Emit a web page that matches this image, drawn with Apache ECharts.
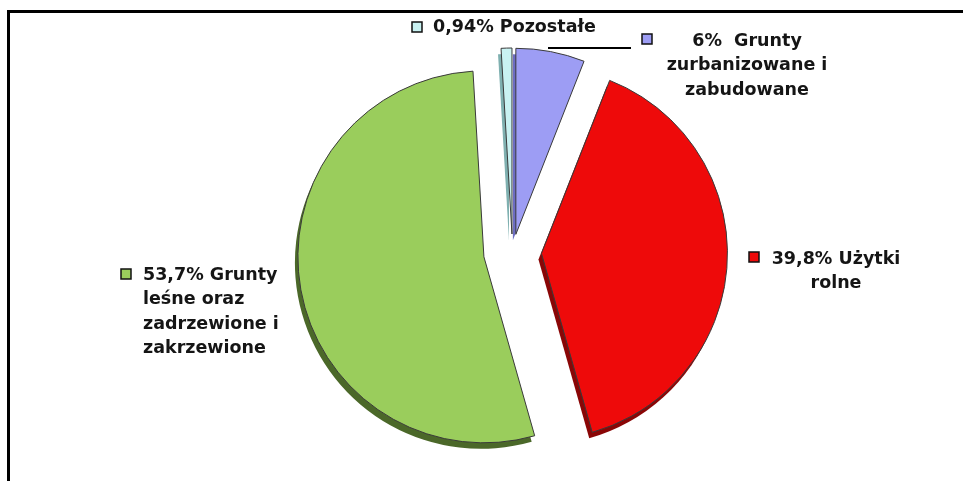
<!DOCTYPE html>
<html>
<head>
    <meta charset="utf-8">
    <title>Struktura gruntów</title>
    <script src="https://cdn.jsdelivr.net/npm/echarts@6/dist/echarts.min.js"></script>
    <style>
        html, body { margin: 0; padding: 0; background: #fff; }
        #main { width: 963px; height: 481px; }
    </style>
</head>
<body>
    <div id="main"></div>
    <script type="text/javascript">
        // dane - kolejnosc zgodnie z ruchem wskazowek zegara od godz. 12
        var names = ['Grunty zurbanizowane i zabudowane', 'Użytki rolne', 'Grunty leśne oraz zadrzewione i zakrzewione', 'Pozostałe'];
        var values = [6, 39.8, 53.7, 0.94];
        var labelLines = [
            ['6%  Grunty', 'zurbanizowane i', 'zabudowane'],
            ['39,8% Użytki', 'rolne'],
            ['53,7% Grunty', 'leśne oraz', 'zadrzewione i', 'zakrzewione'],
            ['0,94% Pozostałe']
        ];

        var colors = ['#9d9df4', '#ee0a0a', '#9acd5c', '#c9f2f2'];
        var sideColors = ['#6d6dc2', '#8a0606', '#4b6829', '#7fb0b0'];

        // polozenie etykiet (x, srodek pierwszej linii, wyrownanie) i kwadracikow
        var labelPos = [
            { x: 747, y: 41, align: 'center', mx: 642, my: 34 },
            { x: 836, y: 259, align: 'center', mx: 749, my: 252 },
            { x: 143, y: 275, align: 'left', mx: 121, my: 269 },
            { x: 433, y: 27, align: 'left', mx: 412, my: 22 }
        ];
        var LH = 24.5;
        var cx = 512.5, cy = 252, R = 186;

        var myChart = echarts.init(document.getElementById('main'), null, { renderer: 'canvas' });

        function pieSeries(group, offset, shadow) {
            return {
                type: 'pie',
                center: shadow ? [cx - 3, cy + 6] : [cx, cy],
                radius: R,
                startAngle: 90,
                clockwise: true,
                selectedMode: 'multiple',
                selectedOffset: offset,
                silent: true,
                animation: false,
                z: shadow ? 1 : 2,
                emphasis: { disabled: true },
                label: { show: false },
                labelLine: { show: false },
                data: values.map(function (v, i) {
                    var on = group.indexOf(i) >= 0;
                    var st = on
                        ? { color: shadow ? sideColors[i] : colors[i], borderColor: shadow ? sideColors[i] : '#3a3a3a', borderWidth: shadow ? 0 : 1 }
                        : { color: 'rgba(0,0,0,0)', borderWidth: 0 };
                    return {
                        value: v,
                        name: names[i],
                        selected: on,
                        itemStyle: st,
                        select: { itemStyle: st }
                    };
                })
            };
        }

        var graphics = [
            {
                type: 'polyline',
                shape: { points: [[8.5, 481], [8.5, 11.5], [963, 11.5]] },
                style: { stroke: '#000', lineWidth: 3, fill: null },
                z: 10
            },
            {
                type: 'line',
                shape: { x1: 548, y1: 48, x2: 631, y2: 48 },
                style: { stroke: '#000', lineWidth: 2 },
                z: 10
            }
        ];
        labelPos.forEach(function (pos, i) {
            graphics.push({
                type: 'rect',
                shape: { x: pos.mx, y: pos.my, width: 10, height: 10 },
                style: { fill: colors[i], stroke: '#111', lineWidth: 1.5 },
                z: 10
            });
            graphics.push({
                type: 'text',
                x: pos.x,
                y: pos.y - LH / 2,
                style: {
                    text: labelLines[i].join('\n'),
                    font: 'bold 17.5px "DejaVu Sans"',
                    fill: '#151515',
                    align: pos.align,
                    verticalAlign: 'top',
                    lineHeight: LH
                },
                z: 10
            });
        });

        var option = {
            backgroundColor: '#fff',
            animation: false,
            series: [
                pieSeries([1, 2], 29, true),
                pieSeries([0, 3], 18, true),
                pieSeries([1, 2], 29, false),
                pieSeries([0, 3], 18, false)
            ],
            graphic: graphics
        };

        myChart.setOption(option);
    </script>
</body>
</html>
